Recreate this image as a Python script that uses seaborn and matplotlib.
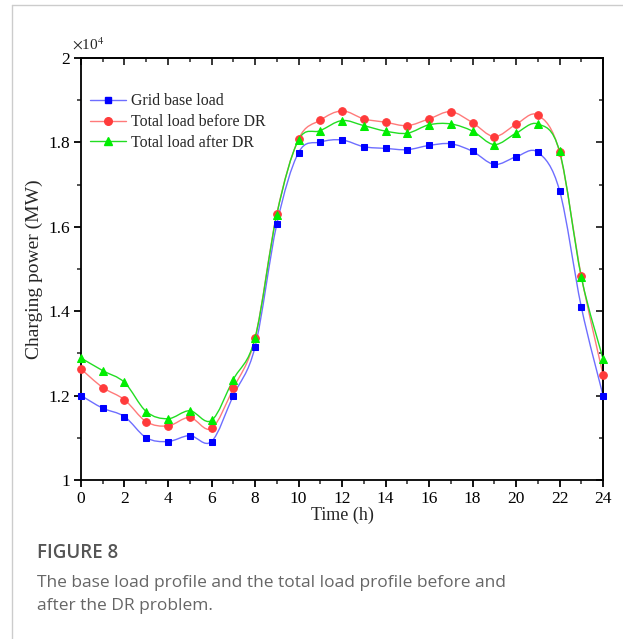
import numpy as np
import pandas as pd
import matplotlib
matplotlib.use("Agg")
import matplotlib.pyplot as plt
from matplotlib.path import Path
from matplotlib.patches import PathPatch
from matplotlib.lines import Line2D
from matplotlib.ticker import MultipleLocator
import seaborn as sns

hours = list(range(25))
grid_base = [12000, 11700, 11500, 11000, 10910, 11050, 10910, 12000, 13150, 16060,
             17760, 18010, 18060, 17900, 17860, 17830, 17930, 17970, 17790, 17480,
             17660, 17770, 16860, 14100, 12000]
before_dr = [12630, 12190, 11900, 11380, 11280, 11480, 11220, 12170, 13360, 16310,
             18080, 18530, 18750, 18560, 18480, 18400, 18560, 18730, 18470, 18140,
             18430, 18650, 17770, 14830, 12490]
after_dr = [12890, 12590, 12310, 11620, 11450, 11640, 11410, 12380, 13360, 16290,
            18060, 18280, 18520, 18400, 18270, 18220, 18420, 18440, 18270, 17950,
            18220, 18440, 17790, 14810, 12870]
series_names = ["Grid base load", "Total load before DR", "Total load after DR"]
x_ticks = list(range(0, 25, 2))
y_ticks = [1.0, 1.2, 1.4, 1.6, 1.8, 2.0]
y_tick_labels = ["1", "1.2", "1.4", "1.6", "1.8", "2"]

line_colors = ["#6e6eff", "#ff7a7a", "#22dd22"]
marker_colors = ["#0000ff", "#ff3b3b", "#00ee00"]
markers = ["s", "o", "^"]
msizes = [5, 5.5, 6.2]

sns.set_style("ticks")
plt.rcParams["font.family"] = ["Liberation Serif", "DejaVu Serif"]
plt.rcParams["mathtext.fontset"] = "stix"

fig = plt.figure(figsize=(6.23, 6.39), dpi=100)
ax = fig.add_axes([0.130, 0.249, 0.838, 0.660])

def smooth_path(x, y):
    x = np.asarray(x, float)
    y = np.asarray(y, float)
    n = len(x)
    verts = [(x[0], y[0])]
    codes = [Path.MOVETO]
    for i in range(n - 1):
        xa, ya = (x[i - 1], y[i - 1]) if i > 0 else (x[i], y[i])
        xd, yd = (x[i + 2], y[i + 2]) if i + 2 < n else (x[i + 1], y[i + 1])
        c1 = (x[i] + (x[i + 1] - xa) / 6.0, y[i] + (y[i + 1] - ya) / 6.0)
        c2 = (x[i + 1] - (xd - x[i]) / 6.0, y[i + 1] - (yd - y[i]) / 6.0)
        verts += [c1, c2, (x[i + 1], y[i + 1])]
        codes += [Path.CURVE4] * 3
    return Path(verts, codes)

all_series = [grid_base, before_dr, after_dr]
handles = []
for vals, name, lc, mc, mk, ms in zip(all_series, series_names, line_colors,
                                      marker_colors, markers, msizes):
    yv = np.asarray(vals, float) / 1e4
    ax.add_patch(PathPatch(smooth_path(hours, yv), facecolor="none",
                           edgecolor=lc, lw=1.0, zorder=2))
    df = pd.DataFrame({"h": hours, "v": yv})
    sns.lineplot(data=df, x="h", y="v", ax=ax, linestyle="", marker=mk,
                 markersize=ms, markerfacecolor=mc, markeredgecolor=mc,
                 color=mc, zorder=3, legend=False, clip_on=False)
    handles.append(Line2D([0], [0], color=lc, lw=1.0, marker=mk, markersize=ms,
                          markerfacecolor=mc, markeredgecolor=mc))

ax.set_xlim(0, 24)
ax.set_ylim(1.0, 2.0)
ax.set_xticks(x_ticks)
ax.set_xticklabels([str(t) for t in x_ticks])
ax.xaxis.set_minor_locator(MultipleLocator(1))
ax.set_yticks(y_ticks)
ax.set_yticklabels(y_tick_labels)
ax.yaxis.set_minor_locator(MultipleLocator(0.1))

for s in ax.spines.values():
    s.set_visible(True)
    s.set_linewidth(1.3)
    s.set_color("black")

ax.tick_params(axis="both", which="major", direction="out", length=5, width=1.3,
               labelsize=12.5, colors="black", pad=3)
ax.tick_params(axis="both", which="minor", direction="out", length=3, width=1.1)

# top and right ticks point inward
sec_x = ax.secondary_xaxis("top")
sec_x.set_xticks(x_ticks)
sec_x.xaxis.set_minor_locator(MultipleLocator(1))
sec_x.tick_params(which="major", direction="in", length=5, width=1.3, labeltop=False)
sec_x.tick_params(which="minor", direction="in", length=3, width=1.1)
sec_x.spines["top"].set_linewidth(1.3)
sec_y = ax.secondary_yaxis("right")
sec_y.set_yticks(y_ticks)
sec_y.yaxis.set_minor_locator(MultipleLocator(0.1))
sec_y.tick_params(which="major", direction="in", length=5, width=1.3, labelright=False)
sec_y.tick_params(which="minor", direction="in", length=3, width=1.1)
sec_y.spines["right"].set_linewidth(1.3)
ax.tick_params(top=False, right=False, which="both")

ax.set_xlabel("Time (h)", fontsize=13, labelpad=0)
ax.set_ylabel("Charging power (MW)", fontsize=14, labelpad=4)
ax.text(-0.017, 1.012, r"$\times$10$^{4}$", transform=ax.transAxes, fontsize=11,
        ha="left", va="bottom")

ax.legend(handles, series_names, loc="upper left", bbox_to_anchor=(-0.01, 0.95),
          frameon=False, fontsize=11.4, handlelength=2.3, handletextpad=0.3,
          labelspacing=0.3, borderaxespad=0.5)

# page frame and caption
fig.add_artist(Line2D([12 / 623, 12 / 623], [0, 1 - 5 / 639], color="#cccccc", lw=1.0))
fig.add_artist(Line2D([12 / 623, 1], [1 - 5 / 639, 1 - 5 / 639], color="#cccccc", lw=1.0))
fig.text(37 / 623, 1 - 553 / 639, "FIGURE 8", fontsize=13.5, color="#555555",
         family=["Open Sans", "DejaVu Sans"], fontweight="semibold", va="center")
fig.text(37 / 623, 1 - 583 / 639,
         "The base load profile and the total load profile before and",
         fontsize=12.5, color="#666666", family=["Open Sans", "DejaVu Sans"], va="center")
fig.text(37 / 623, 1 - 606 / 639, "after the DR problem.",
         fontsize=12.5, color="#666666", family=["Open Sans", "DejaVu Sans"], va="center")

fig.savefig("out.png", dpi=100, facecolor="white")
